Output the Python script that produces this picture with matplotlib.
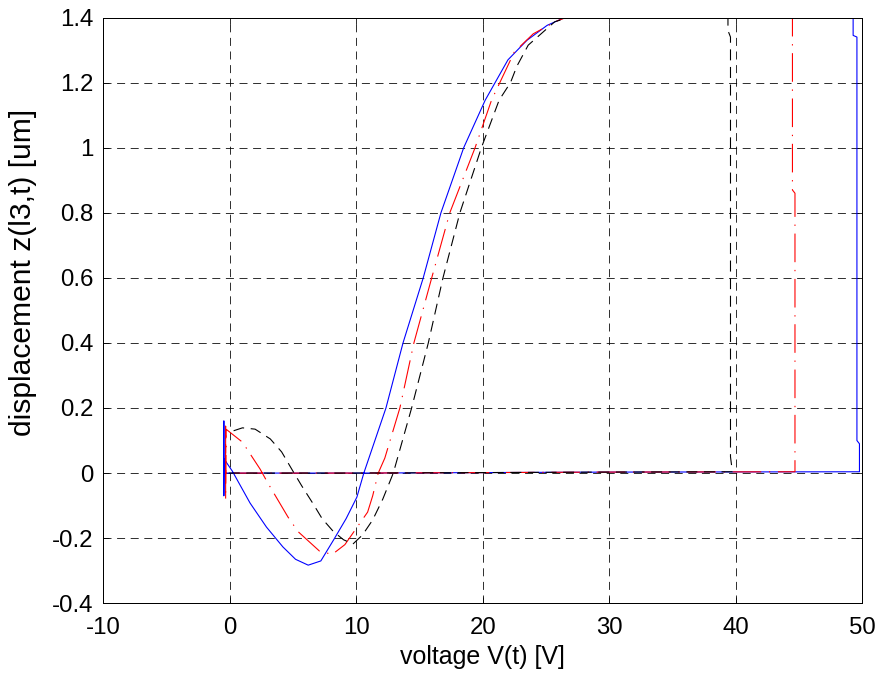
import matplotlib
matplotlib.use("Agg")
import matplotlib.pyplot as plt

# hysteresis loops, values
blue_x = [-0.47, -0.47, -0.47, -0.45, 0.2, 1.6, 2.9, 4.2, 5.2, 6.2, 7.2, 8.2, 9.2, 10.05,
          10.6, 12.35, 13.7, 15.3, 16.7, 18.5, 20.2, 22.0, 23.5, 25.1, 26.5,
          49.3, 49.3, 49.6, 49.6, 49.8, 49.8, 30.0, 10.0, -0.47]
blue_y = [0.0, 0.16, -0.07, 0.043, 0.006, -0.092, -0.166, -0.227, -0.265, -0.283, -0.27, -0.206, -0.14, -0.074,
          0.0, 0.2, 0.4, 0.6, 0.8, 1.0, 1.146, 1.27, 1.33, 1.376, 1.4,
          1.4, 1.345, 1.34, 0.10, 0.09, 0.004, 0.003, 0.0, 0.0]

red_x = [-0.33, -0.33, -0.33, -0.3, 1.0, 2.4, 3.0, 4.6, 5.4, 7.1, 8.1, 9.1, 10.9, 11.3,
         11.74, 12.26, 13.45, 14.56, 15.97, 17.4, 19.4, 20.7, 22.5, 24.0, 25.9, 26.6,
         44.5, 44.5, 44.7, 44.7, 30.0, 10.0, -0.33]
red_y = [0.0, 0.144, -0.081, 0.135, 0.095, 0.012, -0.03, -0.135, -0.18, -0.24, -0.25, -0.22, -0.12, -0.07,
         0.0, 0.046, 0.2, 0.4, 0.6, 0.8, 1.0, 1.146, 1.294, 1.35, 1.39, 1.4,
         1.4, 0.87, 0.86, 0.004, 0.003, 0.0, 0.0]

black_x = [0.3, 1.0, 2.0, 3.2, 4.1, 4.9, 5.7, 6.6, 7.3, 8.2, 9.0, 9.74, 10.5, 11.3, 12.1,
           12.93, 14.38, 15.7, 16.86, 18.2, 19.9, 21.3, 22.2, 22.7, 23.6, 25.7, 26.8,
           39.4, 39.4, 39.6, 39.6, 39.75, 30.0, 10.0, -0.4]
black_y = [0.13, 0.139, 0.135, 0.105, 0.065, 0.012, -0.04, -0.095, -0.14, -0.18, -0.205, -0.218, -0.19, -0.144, -0.08,
           0.0, 0.2, 0.4, 0.6, 0.8, 1.0, 1.146, 1.2, 1.25, 1.315, 1.387, 1.4,
           1.4, 1.36, 1.34, 0.05, 0.004, 0.003, 0.0, 0.0]

x_ticks = [-10, 0, 10, 20, 30, 40, 50]
y_ticks = [-0.4, -0.2, 0, 0.2, 0.4, 0.6, 0.8, 1, 1.2, 1.4]

plt.rcParams['font.family'] = ['Liberation Sans', 'DejaVu Sans']

fig = plt.figure(figsize=(876 / 72, 674 / 72), dpi=72)
ax = fig.add_axes([0.118, 0.105, 0.866, 0.869])

# blue first so the dashed ones sit on top along the baseline
ax.plot(blue_x, blue_y, color='b', lw=1.1)
ax.plot(red_x, red_y, color='r', lw=1.1, linestyle=(0, (26, 7, 1.2, 7)))
ax.plot(black_x, black_y, color='k', lw=1.1, linestyle=(0, (10, 6)))

ax.set_xlim(-10, 50)
ax.set_ylim(-0.4, 1.4)
ax.set_xticks(x_ticks)
ax.set_yticks(y_ticks)
ax.set_xticklabels([f'{v:g}' for v in x_ticks])
ax.set_yticklabels([f'{v:g}' for v in y_ticks])
ax.tick_params(direction='in', length=6, width=0.8, labelsize=24,
               top=True, right=True)
ax.tick_params(axis='x', pad=14)
ax.tick_params(axis='y', pad=10)
ax.grid(True, color='k', linestyle=(0, (10, 7)), lw=0.8)
for sp in ax.spines.values():
    sp.set_linewidth(1.0)

ax.set_xlabel('voltage V(t) [V]', fontsize=25, labelpad=6)
ax.set_ylabel('displacement z(l3,t) [um]', fontsize=30)
ax.yaxis.set_label_coords(-0.088, 0.565)

fig.savefig('out.png', dpi=72)
